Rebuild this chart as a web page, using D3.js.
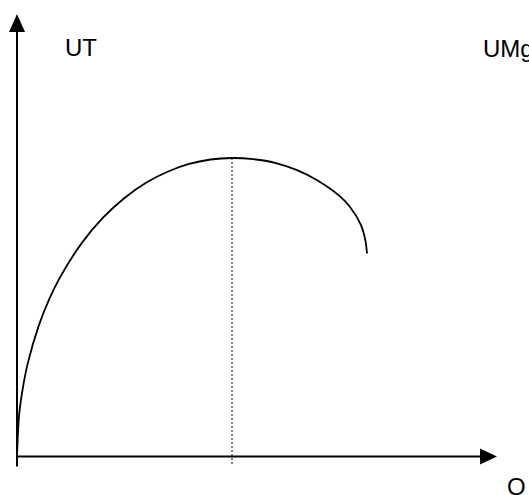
<!DOCTYPE html>
<html>
<head>
<meta charset="utf-8">
<script src="https://cdn.jsdelivr.net/npm/d3@7"></script>
<style>
  body { margin: 0; background: #fff; }
  svg { display: block; }
  text { font-family: "Liberation Sans", Arial, sans-serif; font-size: 24px; fill: #000; }
</style>
</head>
<body>
<div id="container"></div>
<script>
/* DATA */
// quantity (Q), peak of UT at Q = 10
const quantity = [0, 0.1, 0.25, 0.5, 1, 1.5, 2, 3, 4, 5, 6, 7, 8, 9, 10,
  11, 12, 13, 14, 15, 15.5, 16, 16.2, 16.28];
// total utility (UT), peak = 100
const utility = [0, 14, 22, 31.2, 43.6, 52.7, 60, 71.4, 80, 86.6, 91.7, 95.4, 98, 99.5, 100,
  99.6, 98.4, 96, 92.4, 87.3, 83.5, 77.5, 72.5, 68];
const peakQ = 10;
const labels = { yAxis: "UT", yAxis2: "UMg", xAxis: "Q" };

/* CONSTANTS */
const width = 529,
  height = 495;

const svg = d3.select("#container")
  .append("svg")
  .attr("width", width)
  .attr("height", height);

// + SCALES
const xScale = d3.scaleLinear()
  .domain([0, 10])
  .range([17, 232]);

const yScale = d3.scaleLinear()
  .domain([0, 100])
  .range([456.5, 158]);

const x0 = xScale(0),
  y0 = yScale(0);

// + AXES (plain lines with arrow heads)
svg.append("line")
  .attr("x1", x0).attr("x2", x0)
  .attr("y1", y0 + 10).attr("y2", 30)
  .attr("stroke", "#000")
  .attr("stroke-width", 2);

svg.append("path")
  .attr("d", `M${x0 - 8},32 L${x0},14 L${x0 + 8},32 Z`)
  .attr("fill", "#000");

svg.append("line")
  .attr("x1", x0).attr("x2", 482)
  .attr("y1", y0).attr("y2", y0)
  .attr("stroke", "#000")
  .attr("stroke-width", 2);

svg.append("path")
  .attr("d", `M480,${y0 - 8} L497,${y0} L480,${y0 + 8} Z`)
  .attr("fill", "#000");

// + DOTTED LINE AT THE PEAK
svg.append("line")
  .attr("x1", xScale(peakQ)).attr("x2", xScale(peakQ))
  .attr("y1", yScale(100)).attr("y2", y0 + 8)
  .attr("stroke", "#000")
  .attr("stroke-width", 1)
  .attr("stroke-dasharray", "2,2");

// + CURVE
const points = quantity.map((q, i) => ({ q: q, ut: utility[i] }));

const lineGenerator = d3.line()
  .x(d => xScale(d.q))
  .y(d => yScale(d.ut))
  .curve(d3.curveCatmullRom.alpha(0.5));

svg.append("path")
  .datum(points)
  .attr("fill", "none")
  .attr("stroke", "#000")
  .attr("stroke-width", 1.8)
  .attr("d", lineGenerator);

// + LABELS
svg.append("text").attr("x", 65).attr("y", 56).text(labels.yAxis);
svg.append("text").attr("x", 483).attr("y", 57).text(labels.yAxis2);
svg.append("text").attr("x", 507).attr("y", 495).text(labels.xAxis);
</script>
</body>
</html>
